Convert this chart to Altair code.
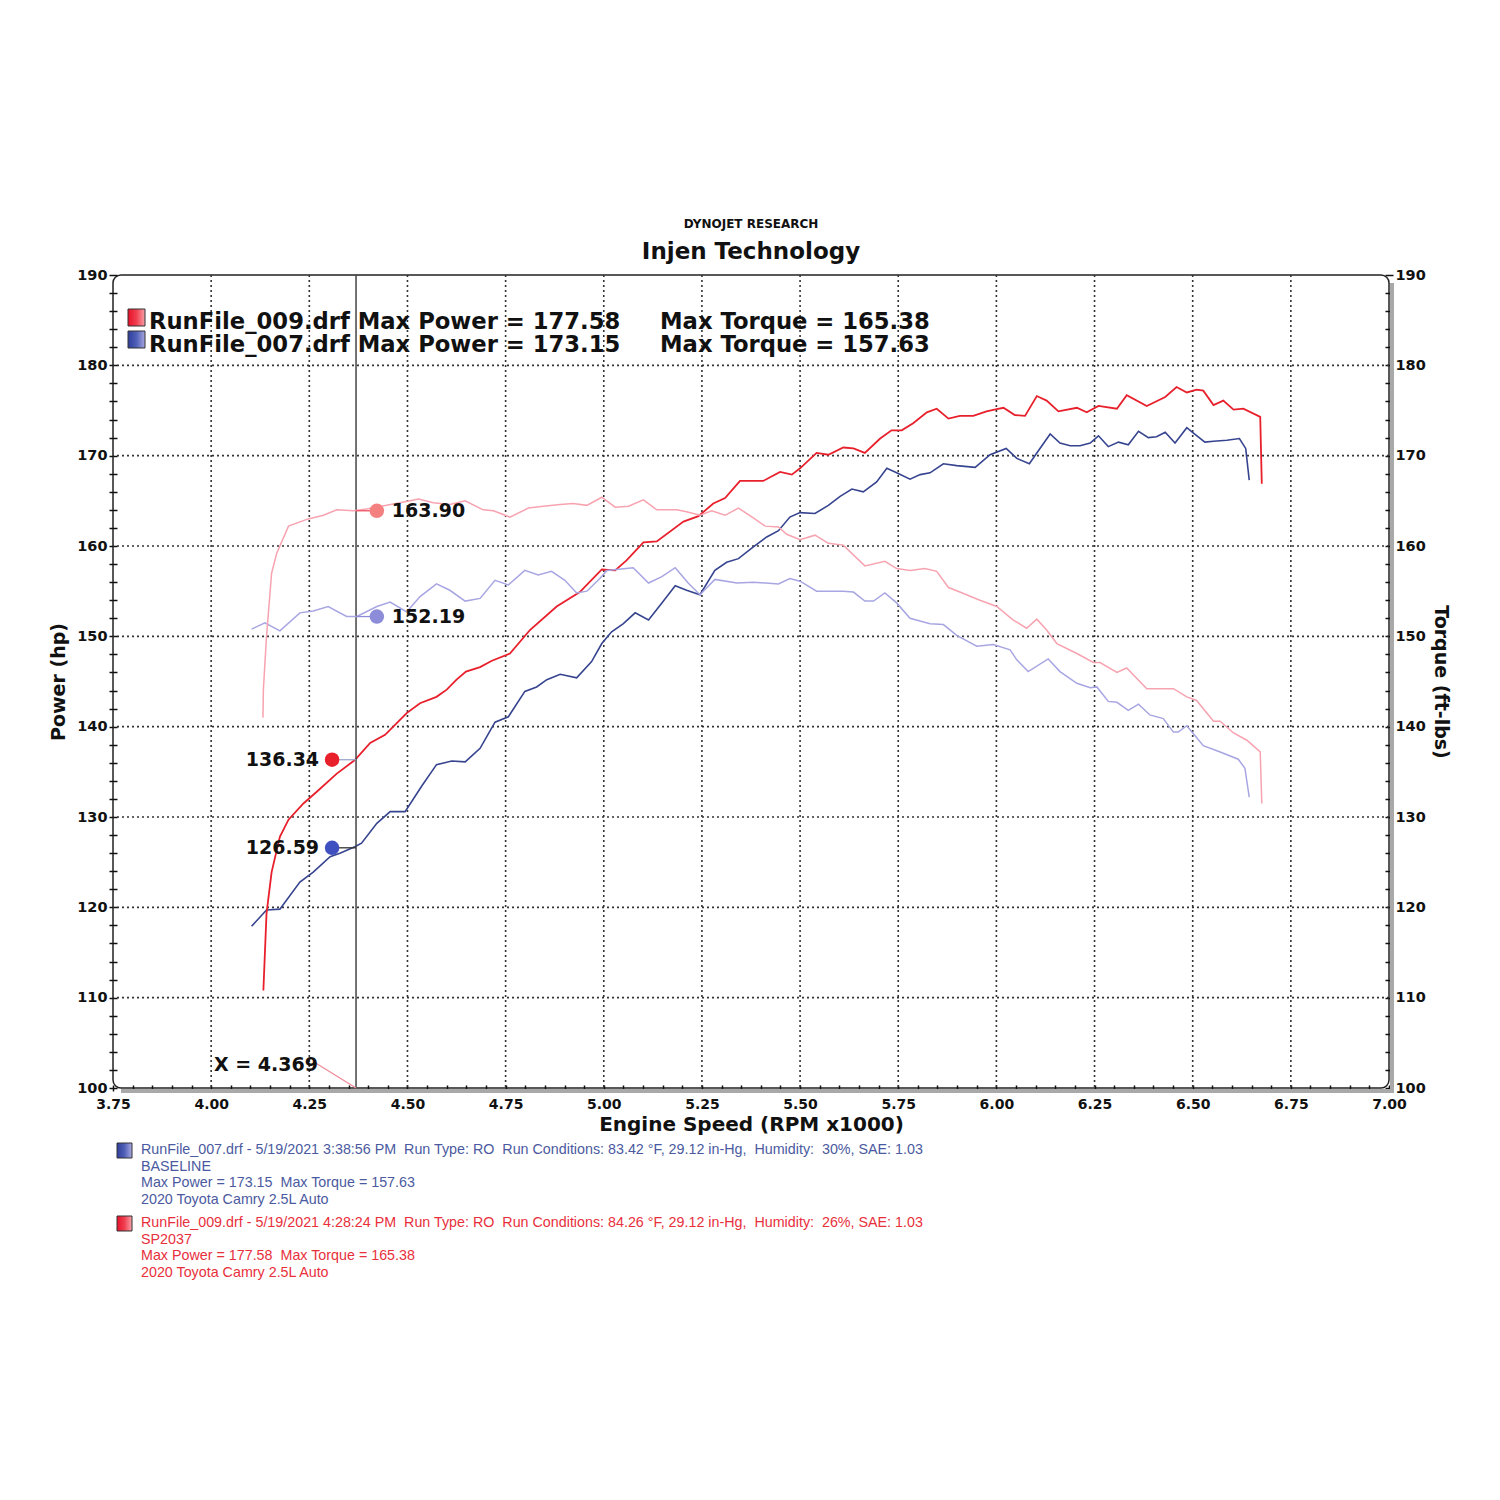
import altair as alt
import pandas as pd

# ---------------- data ----------------
rpm_pwr009 = [4.133, 4.141, 4.154, 4.175, 4.197, 4.235, 4.269, 4.320, 4.366, 4.405, 4.443, 4.498, 4.532, 4.574,
              4.600, 4.625, 4.649, 4.685, 4.715, 4.761, 4.812, 4.880, 4.939, 4.995, 5.029, 5.058, 5.101, 5.135,
              5.203, 5.241, 5.279, 5.309, 5.347, 5.406, 5.449, 5.479, 5.500, 5.542, 5.572, 5.610, 5.636, 5.665,
              5.704, 5.733, 5.759, 5.788, 5.823, 5.848, 5.878, 5.907, 5.941, 5.975, 5.995, 6.018, 6.047, 6.073,
              6.103, 6.128, 6.158, 6.205, 6.230, 6.260, 6.307, 6.332, 6.383, 6.430, 6.459, 6.485, 6.510, 6.527,
              6.553, 6.578, 6.604, 6.629, 6.672, 6.676]
hp_pwr009 = [110.8, 119.3, 123.9, 127.8, 129.7, 131.5, 132.8, 134.8, 136.3, 138.2, 139.1, 141.5, 142.6, 143.3,
             144.1, 145.2, 146.1, 146.6, 147.3, 148.1, 150.7, 153.3, 154.9, 157.4, 157.3, 158.4, 160.4, 160.5,
             162.7, 163.3, 164.7, 165.3, 167.2, 167.2, 168.2, 167.9, 168.6, 170.3, 170.1, 170.9, 170.8, 170.3,
             171.9, 172.8, 172.8, 173.6, 174.8, 175.2, 174.1, 174.4, 174.4, 174.9, 175.1, 175.3, 174.5, 174.4,
             176.6, 176.1, 174.9, 175.3, 174.8, 175.5, 175.2, 176.7, 175.5, 176.5, 177.6, 177.0, 177.3, 177.2,
             175.6, 176.1, 175.1, 175.2, 174.3, 166.9]

rpm_trq009 = [4.132, 4.133, 4.141, 4.154, 4.167, 4.197, 4.247, 4.286, 4.320, 4.362, 4.396, 4.481, 4.528, 4.566,
              4.608, 4.647, 4.693, 4.719, 4.761, 4.808, 4.846, 4.889, 4.922, 4.957, 4.995, 5.029, 5.063, 5.101,
              5.135, 5.186, 5.211, 5.245, 5.275, 5.309, 5.343, 5.381, 5.411, 5.445, 5.466, 5.500, 5.538, 5.572,
              5.610, 5.665, 5.716, 5.746, 5.780, 5.818, 5.848, 5.878, 5.907, 5.958, 6.001, 6.043, 6.077, 6.103,
              6.128, 6.154, 6.205, 6.247, 6.264, 6.307, 6.332, 6.383, 6.451, 6.485, 6.510, 6.553, 6.570, 6.604,
              6.638, 6.672, 6.676]
tq_trq009 = [141.0, 144.1, 150.0, 157.0, 159.2, 162.2, 163.0, 163.4, 164.0, 163.9, 164.1, 164.8, 165.2, 164.8,
             164.6, 165.0, 164.0, 163.9, 163.2, 164.2, 164.4, 164.6, 164.7, 164.5, 165.4, 164.3, 164.4, 165.1,
             164.0, 164.0, 163.8, 163.4, 163.9, 163.4, 164.2, 163.1, 162.2, 162.1, 161.3, 160.7, 161.2, 160.3,
             160.1, 157.8, 158.3, 157.5, 157.3, 157.5, 157.2, 155.4, 154.9, 154.0, 153.3, 151.8, 150.9, 151.9,
             150.7, 149.2, 148.1, 147.1, 147.1, 146.0, 146.5, 144.2, 144.2, 143.3, 142.9, 140.6, 140.6, 139.3,
             138.5, 137.2, 131.5]

rpm_pwr007 = [4.103, 4.141, 4.175, 4.226, 4.260, 4.303, 4.328, 4.366, 4.383, 4.422, 4.456, 4.494, 4.536, 4.574,
              4.613, 4.647, 4.685, 4.723, 4.757, 4.799, 4.829, 4.855, 4.889, 4.931, 4.969, 4.995, 5.020, 5.050,
              5.080, 5.114, 5.148, 5.182, 5.211, 5.245, 5.283, 5.313, 5.343, 5.381, 5.415, 5.445, 5.474, 5.500,
              5.538, 5.572, 5.602, 5.632, 5.661, 5.695, 5.721, 5.746, 5.780, 5.806, 5.831, 5.865, 5.899, 5.946,
              5.984, 6.025, 6.052, 6.084, 6.111, 6.137, 6.162, 6.188, 6.213, 6.239, 6.260, 6.285, 6.311, 6.336,
              6.362, 6.387, 6.408, 6.430, 6.455, 6.485, 6.502, 6.531, 6.553, 6.587, 6.619, 6.635, 6.644]
hp_pwr007 = [117.9, 119.7, 119.8, 122.8, 123.9, 125.6, 126.0, 126.7, 127.1, 129.3, 130.6, 130.6, 133.4, 135.8,
             136.2, 136.1, 137.6, 140.5, 141.1, 143.9, 144.4, 145.2, 145.8, 145.4, 147.2, 149.2, 150.5, 151.4,
             152.6, 151.8, 153.7, 155.6, 155.1, 154.6, 157.3, 158.2, 158.6, 159.9, 161.0, 161.7, 163.2, 163.7,
             163.6, 164.5, 165.5, 166.3, 166.0, 167.1, 168.6, 168.1, 167.4, 167.9, 168.1, 169.1, 168.9, 168.7,
             170.1, 170.8, 169.7, 169.1, 170.8, 172.4, 171.4, 171.1, 171.1, 171.4, 172.2, 171.0, 171.5, 171.2,
             172.7, 172.0, 172.1, 172.6, 171.4, 173.1, 172.5, 171.5, 171.6, 171.7, 171.9, 170.8, 167.3]

rpm_trq007 = [4.103, 4.137, 4.175, 4.226, 4.260, 4.298, 4.345, 4.371, 4.422, 4.456, 4.498, 4.532, 4.574, 4.608,
              4.647, 4.685, 4.723, 4.757, 4.799, 4.833, 4.867, 4.901, 4.931, 4.957, 4.990, 5.008, 5.075, 5.114,
              5.148, 5.182, 5.215, 5.245, 5.283, 5.339, 5.381, 5.445, 5.474, 5.500, 5.542, 5.610, 5.636, 5.665,
              5.687, 5.716, 5.746, 5.780, 5.831, 5.865, 5.899, 5.950, 5.992, 6.035, 6.052, 6.081, 6.132, 6.162,
              6.205, 6.239, 6.256, 6.285, 6.307, 6.336, 6.362, 6.391, 6.425, 6.451, 6.463, 6.485, 6.527, 6.570,
              6.616, 6.633, 6.644]
tq_trq007 = [150.8, 151.5, 150.6, 152.6, 152.8, 153.3, 152.2, 152.2, 153.3, 153.8, 152.7, 154.4, 155.8, 155.1,
             153.9, 154.2, 156.2, 155.7, 157.3, 156.8, 157.2, 156.2, 154.8, 155.0, 156.4, 157.3, 157.6, 155.9,
             156.6, 157.6, 155.9, 154.6, 156.3, 155.9, 156.0, 155.8, 156.4, 156.1, 155.0, 155.0, 154.9, 153.9,
             153.9, 154.8, 153.7, 152.0, 151.4, 151.3, 150.1, 148.9, 149.1, 148.5, 147.4, 146.1, 147.5, 146.1,
             144.8, 144.3, 144.4, 142.8, 142.7, 141.8, 142.5, 141.3, 140.9, 139.4, 139.4, 140.1, 137.9, 137.2,
             136.4, 135.4, 132.2]

cursor_rpm = [4.369]
power_marker_rpm = [4.308, 4.308]
power_marker_val = [136.34, 126.59]
torque_marker_rpm = [4.422, 4.422]
torque_marker_val = [163.90, 152.19]

grid_rpm = [4.00, 4.25, 4.50, 4.75, 5.00, 5.25, 5.50, 5.75, 6.00, 6.25, 6.50, 6.75]
grid_val = [110, 120, 130, 140, 150, 160, 170, 180]
x_tick_values = [round(3.75 + 0.05 * i, 2) for i in range(66)]
y_tick_values = list(range(100, 191, 2))

legend_lines_009 = ["RunFile_009.drf Max Power = 177.58", "Max Torque = 165.38"]
legend_lines_007 = ["RunFile_007.drf Max Power = 173.15", "Max Torque = 157.63"]
NB = "\u00a0"
notes_007 = ["RunFile_007.drf - 5/19/2021 3:38:56 PM" + NB + " Run Type: RO" + NB + " Run Conditions: 83.42 \u00b0F, 29.12 in-Hg," + NB + " Humidity:" + NB + " 30%, SAE: 1.03",
             "BASELINE",
             "Max Power = 173.15" + NB + " Max Torque = 157.63",
             "2020 Toyota Camry 2.5L Auto"]
notes_009 = ["RunFile_009.drf - 5/19/2021 4:28:24 PM" + NB + " Run Type: RO" + NB + " Run Conditions: 84.26 \u00b0F, 29.12 in-Hg," + NB + " Humidity:" + NB + " 26%, SAE: 1.03",
             "SP2037",
             "Max Power = 177.58" + NB + " Max Torque = 165.38",
             "2020 Toyota Camry 2.5L Auto"]

# ---------------- styles ----------------
RED = "#e8202c"
PINK = "#f7a3b0"
NAVY = "#36448f"
LAV = "#a8a6e2"
FONT = "DejaVu Sans"
W, H = 1276, 813

xscale = alt.Scale(domain=[3.75, 7.0], nice=False, zero=False)
yscale = alt.Scale(domain=[100, 190], nice=False, zero=False)

xaxis = alt.Axis(values=x_tick_values,
                 labelExpr="abs(datum.value*4 - round(datum.value*4)) < 0.01 ? format(datum.value, '.2f') : ''",
                 grid=False, domain=False, tickSize=6, offset=-3, tickColor="#111", tickWidth=1.5,
                 labelFont=FONT, labelFontWeight="bold", labelFontSize=14, labelColor="#111",
                 labelPadding=6, labelFlush=False, labelOverlap=False, labelBound=False,
                 title="Engine Speed (RPM x1000)", titleFont=FONT, titleFontWeight="bold",
                 titleFontSize=20, titleColor="#111", titlePadding=3)

def yaxis(orient, title, tpad):
    return alt.Axis(orient=orient, values=y_tick_values,
                    labelExpr="datum.value % 10 == 0 ? datum.label : ''",
                    format="d", grid=False, domain=False, tickSize=8, offset=-4, tickColor="#111",
                    tickWidth=1.5, labelFont=FONT, labelFontWeight="bold", labelFontSize=14.5,
                    labelColor="#111", labelPadding=2, labelOverlap=False, labelFlush=False,
                    title=title, titleFont=FONT, titleFontWeight="bold", titleFontSize=19,
                    titleColor="#111", titlePadding=tpad)

yaxis_left = yaxis("left", "Power (hp)", 8)
yaxis_right = yaxis("right", "Torque (ft-lbs)", 5)

X = alt.X("rpm:Q", scale=xscale, axis=xaxis)
YL = alt.Y("val:Q", scale=yscale, axis=yaxis_left)
YR = alt.Y("val:Q", scale=yscale, axis=yaxis_right)


def series_df(rpm, vals):
    return pd.DataFrame({"rpm": rpm, "val": vals, "order": list(range(len(rpm)))})


def line(rpm, vals, color, width, y):
    return alt.Chart(series_df(rpm, vals)).mark_line(color=color, strokeWidth=width).encode(
        x=X, y=y, order=alt.Order("order:Q"))


one = pd.DataFrame({"rpm": [0.0], "val": [0.0]})

grid_v = alt.Chart(pd.DataFrame({"rpm": grid_rpm})).mark_rule(
    color="#333", strokeWidth=1.6, strokeDash=[2, 3]).encode(x=X)
grid_h = alt.Chart(pd.DataFrame({"val": grid_val})).mark_rule(
    color="#333", strokeWidth=1.6, strokeDash=[2, 3]).encode(y=YL)

# shadow of the frame
shadow_r = alt.Chart(one).mark_rect(color="#a9a9a9").encode(
    x=alt.value(W + 1), x2=alt.value(W + 5), y=alt.value(8), y2=alt.value(H + 5))
shadow_b = alt.Chart(one).mark_rect(color="#a9a9a9").encode(
    x=alt.value(8), x2=alt.value(W + 5), y=alt.value(H + 1), y2=alt.value(H + 5))

cursor = alt.Chart(pd.DataFrame({"rpm": cursor_rpm})).mark_rule(
    color="#444", strokeWidth=1.5).encode(x=X)

# X = 4.369 label and its leader
xlab_df = pd.DataFrame({"rpm": [4.272], "val": [102.55], "t": ["X = " + format(cursor_rpm[0], ".3f")]})
xlab = alt.Chart(xlab_df).mark_text(font=FONT, fontWeight="bold", fontSize=19, align="right",
                                    baseline="middle", color="#111").encode(x=X, y=YL, text="t:N")
leader_df = pd.DataFrame({"rpm": [4.265, cursor_rpm[0]], "val": [102.8, 100.0], "order": [0, 1]})
leader = alt.Chart(leader_df).mark_line(color="#f08a9a", strokeWidth=1.3).encode(
    x=X, y=YL, order="order:Q")

pm_df = pd.DataFrame({"rpm": power_marker_rpm, "rpm2": cursor_rpm * 2, "val": power_marker_val,
                      "c": [RED, "#3f50c0"], "lc": ["#9aa6cc", "#333"]})
pm_conn = alt.Chart(pm_df).mark_rule(strokeWidth=1.3).encode(
    x=X, x2="rpm2:Q", y=YL, color=alt.Color("lc:N", scale=None))
pm_dot = alt.Chart(pm_df).mark_circle(size=210, opacity=1).encode(
    x=X, y=YL, color=alt.Color("c:N", scale=None))
pm_txt = alt.Chart(pm_df).mark_text(font=FONT, fontWeight="bold", fontSize=19, align="right",
                                    baseline="middle", dx=-13, color="#111").encode(
    x=X, y=YL, text=alt.Text("val:Q", format=".2f"))

tm_df = pd.DataFrame({"rpm": torque_marker_rpm, "rpm2": cursor_rpm * 2, "val": torque_marker_val,
                      "c": ["#f48080", "#8c8cd8"], "lc": ["#ee5060", "#8c8cd8"]})
tm_conn = alt.Chart(tm_df).mark_rule(strokeWidth=1.3).encode(
    x=X, x2="rpm2:Q", y=YR, color=alt.Color("lc:N", scale=None))
tm_dot = alt.Chart(tm_df).mark_circle(size=210, opacity=1).encode(
    x=X, y=YR, color=alt.Color("c:N", scale=None))
tm_txt = alt.Chart(tm_df).mark_text(font=FONT, fontWeight="bold", fontSize=19, align="left",
                                    baseline="middle", dx=15, color="#111").encode(
    x=X, y=YR, text=alt.Text("val:Q", format=".2f"))


def swatch(x0, y0, size, g):
    return alt.Chart(one).mark_rect(fill=g, stroke="#333", strokeWidth=1).encode(
        x=alt.value(x0), x2=alt.value(x0 + size), y=alt.value(y0), y2=alt.value(y0 + size))


def label(txt, x0, y0, size, color, font=FONT, weight="bold", baseline="middle", lh=None):
    kw = dict(font=font, fontWeight=weight, fontSize=size, align="left", baseline=baseline, color=color)
    if lh is not None:
        kw["lineHeight"] = lh
    return alt.Chart(one).mark_text(**kw).encode(x=alt.value(x0), y=alt.value(y0), text=alt.value(txt))


red_grad = alt.LinearGradient(gradient="linear", x1=0, x2=1, y1=0, y2=0,
                              stops=[alt.GradientStop(color="#e8102a", offset=0),
                                     alt.GradientStop(color="#f04050", offset=0.5),
                                     alt.GradientStop(color="#f8a0a8", offset=1)])
blue_grad = alt.LinearGradient(gradient="linear", x1=0, x2=1, y1=0, y2=0,
                               stops=[alt.GradientStop(color="#2e3e9a", offset=0),
                                      alt.GradientStop(color="#5060b8", offset=0.5),
                                      alt.GradientStop(color="#a8a8e0", offset=1)])

LEG = 22.7
legend_layers = [
    swatch(15, 34, 17, red_grad), swatch(15, 56, 17, blue_grad),
    label(legend_lines_009[0], 36, 47, LEG, "#111"), label(legend_lines_009[1], 547, 47, LEG, "#111"),
    label(legend_lines_007[0], 36, 70, LEG, "#111"), label(legend_lines_007[1], 547, 70, LEG, "#111"),
    swatch(4, 868, 15, blue_grad), swatch(4, 941, 15, red_grad),
    label(notes_007, 28, 868, 14.3, "#4b5aa0", font="Liberation Sans", weight="normal", baseline="top", lh=16.5),
    label(notes_009, 28, 941, 14.3, "#e8303c", font="Liberation Sans", weight="normal", baseline="top", lh=16.5),
]

left = alt.layer(
    grid_v, grid_h, shadow_r, shadow_b,
    line(rpm_pwr007, hp_pwr007, NAVY, 1.6, YL),
    line(rpm_pwr009, hp_pwr009, RED, 1.8, YL),
    cursor, leader, xlab, pm_conn, pm_dot, pm_txt,
    *legend_layers,
)
right = alt.layer(
    line(rpm_trq007, tq_trq007, LAV, 1.5, YR),
    line(rpm_trq009, tq_trq009, PINK, 1.5, YR),
    tm_conn, tm_dot, tm_txt,
)

chart = alt.layer(left, right).resolve_scale(y="independent").properties(
    width=W, height=H,
    autosize=alt.AutoSizeParams(type="none"),
    padding={"left": 105, "top": 267, "right": 100, "bottom": 400},
    title=alt.TitleParams(text="DYNOJET RESEARCH", subtitle="Injen Technology", font=FONT,
                          fontWeight="bold", fontSize=12, color="#111", subtitleFont=FONT,
                          subtitleFontWeight="bold", subtitleFontSize=23, subtitleColor="#111",
                          subtitlePadding=10, anchor="middle", offset=2),
).configure_view(stroke="#222", strokeWidth=1.5, cornerRadius=8, fill="white")

chart.save("out.html", embed_options={"renderer": "svg", "actions": False})
